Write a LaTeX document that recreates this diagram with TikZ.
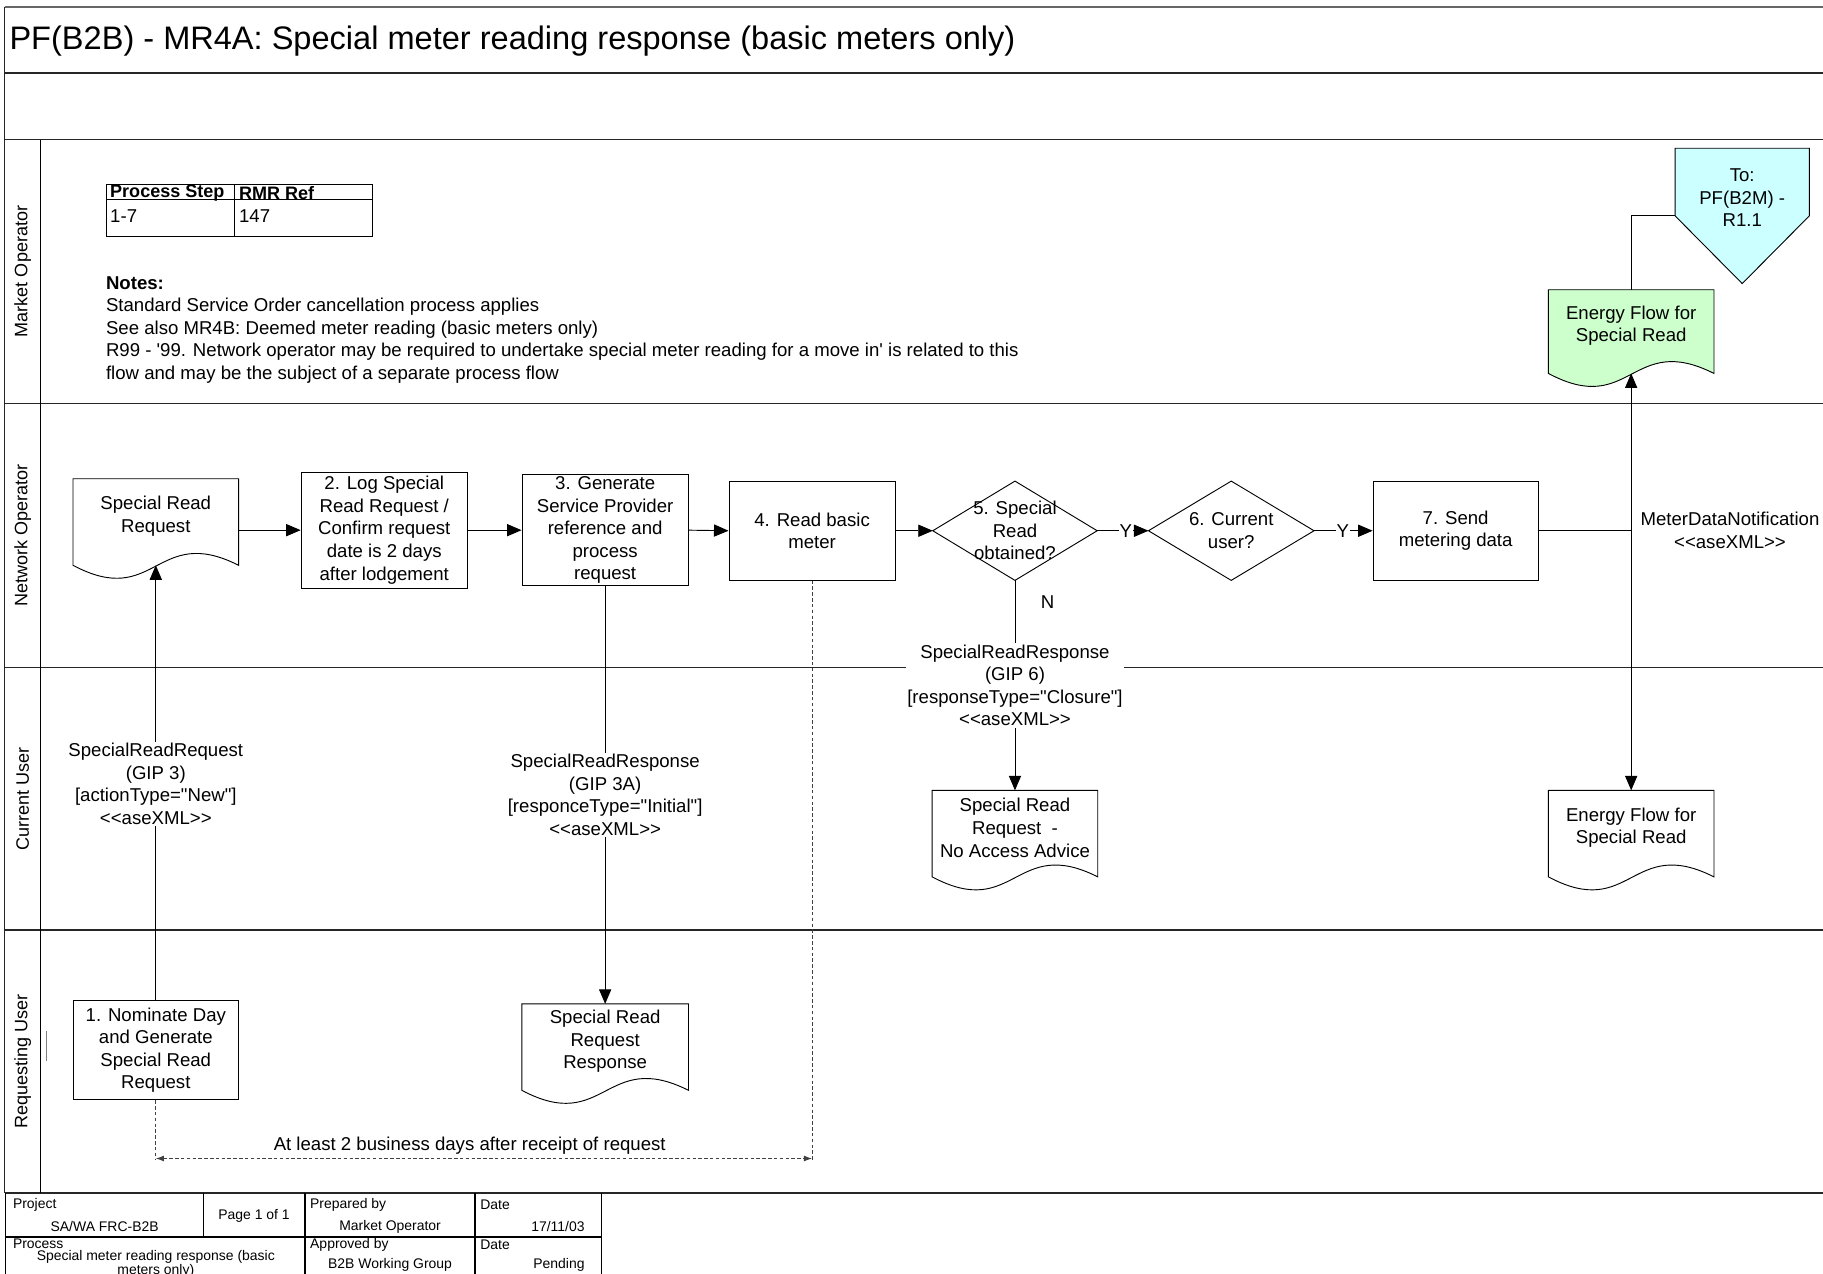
\documentclass[tikz,border=0pt]{standalone}
\usepackage{fontspec}
\setmainfont{Liberation Sans}
\newfontfamily\lsans{Liberation Sans}
\usetikzlibrary{arrows.meta,calc}
\pgfdeclarelayer{bg}
\pgfsetlayers{bg,main}
\definecolor{greenfill}{HTML}{CCFFCC}
\definecolor{cyanfill}{HTML}{CCFFFF}
\newcommand{\bodyfont}{\lsans\fontsize{16}{19.4}\selectfont}
\newcommand{\headfont}{\lsans\fontsize{15.5}{17}\selectfont\bfseries}
\newcommand{\titlefont}{\lsans\fontsize{28}{32}\selectfont}
\newcommand{\lanefont}{\lsans\fontsize{15.5}{18}\selectfont}
\newcommand{\footfont}{\lsans\fontsize{12}{12}\selectfont}
\newcommand{\ltlt}{<\kern0pt<}
\newcommand{\gtgt}{>\kern0pt>}
\newcommand{\docoutline}[2]{%
  \begin{pgfonlayer}{bg}
    \path[draw=black, line width=0.8pt, fill=#2]
      (#1.north west) -- ($(#1.south west)+(0,10)$)
      .. controls ($(#1.south)+(0,48)$) and ($(#1.south)+(0,-26)$) ..
      ($(#1.south east)+(0,10)$) -- (#1.north east) -- cycle;
  \end{pgfonlayer}
  \coordinate (#1-b) at ($(#1.south)+(0,10)$);
}
\begin{document}
\begin{tikzpicture}[x=1pt,y=-1pt,
  lane/.style={line width=1.4pt, draw=black!85},
  cline/.style={line width=0.8pt},
  proc/.style={draw, line width=0.8pt, align=center, font=\bodyfont, inner sep=0pt},
  docnode/.style={align=center, font=\bodyfont, inner sep=0pt},
  txt/.style={align=center, font=\bodyfont, inner sep=0pt},
  msg/.style={align=center, font=\bodyfont, fill=white, inner sep=1.5pt},
  ylab/.style={font=\bodyfont, fill=white, inner sep=0.6pt},
  arr/.style={line width=0.8pt, -{Triangle[length=12.5pt,width=10.5pt]}},
  dsh/.style={line width=0.7pt, draw=black!75, dash pattern=on 3pt off 2pt},
  dbl/.style={{Latex[length=7pt,width=5pt]}-{Latex[length=7pt,width=5pt]}},
  lanelab/.style={rotate=90, font=\lanefont, inner sep=0pt},
  ft/.style={font=\footfont, inner sep=0pt}
]
\useasboundingbox (0,0) rectangle (1568,1095);
\begin{pgfonlayer}{bg}
  \fill[white] (0,0) rectangle (1568,1095);
\end{pgfonlayer}

% ---------- frame and lanes ----------
\draw[line width=1pt, draw=black!60] (4,6) -- (1568,6);
\draw[lane] (4,6) -- (4,1026);
\foreach \yy in {63,120,347,574,800,1026} \draw[lane] (4,\yy) -- (1568,\yy);
\draw[line width=1pt] (35,120) -- (35,1026);
\draw[line width=1pt, draw=black!50] (40,887) -- (40,913);

\node[anchor=west, font=\titlefont, inner sep=0pt] (title) at (8,35)
  {PF(B2B) - MR4A: Special meter reading response (basic meters only)};

\node[lanelab] (lmo) at (19.5,233.5) {Market Operator};
\node[lanelab] (lno) at (19.5,460.5) {Network Operator};
\node[lanelab] (lcu) at (19.5,687) {Current User};
\node[lanelab] (lru) at (19.5,913) {Requesting User};

% ---------- process step table ----------
\draw[cline] (91.2,158.3) rectangle (320.5,203);
\draw[cline] (91.2,171.5) -- (320.5,171.5);
\draw[cline] (202,158.3) -- (202,203);
\node[anchor=west, font=\headfont, inner sep=0pt] (tps) at (94.6,166.3) {Process Step};
\node[anchor=west, font=\headfont, inner sep=0pt] (trmr) at (205.5,166.3) {RMR Ref};
\node[anchor=west, font=\bodyfont, inner sep=0pt] (t17) at (94.6,185.5) {1-7};
\node[anchor=west, font=\bodyfont, inner sep=0pt] (t147) at (205.5,185.5) {147};

% ---------- notes ----------
\node[anchor=north west, align=left, font=\bodyfont, inner sep=0pt] (notes) at (91,237.5)
  {\textbf{Notes:}\\
   Standard Service Order cancellation process applies\\
   See also MR4B: Deemed meter reading (basic meters only)\\
   R99 - '99. Network operator may be required to undertake special meter reading for a move in' is related to this\\
   flow and may be the subject of a separate process flow};

% ---------- market operator lane ----------
\node[docnode, minimum width=142, minimum height=61.6] (efn) at (1403,280.2) {Energy Flow for\\Special Read};
\docoutline{efn}{greenfill}
\node[minimum width=115, minimum height=116, inner sep=0pt] (pent) at (1498.5,185.7) {};
\begin{pgfonlayer}{bg}
  \path[draw=black, line width=0.8pt, fill=cyanfill]
    (pent.north west) -- (pent.north east) -- (pent.east) -- (pent.south) -- (pent.west) -- cycle;
\end{pgfonlayer}
\node[txt] (pentxt) at (1498.5,170) {To:\\PF(B2M) -\\R1.1};

% ---------- network operator lane ----------
\node[docnode, minimum width=142, minimum height=64] (srq) at (134,444) {Special Read\\Request};
\docoutline{srq}{white}
\node[proc, minimum width=143, minimum height=100] (box2) at (330.5,456)
  {2. Log Special\\Read Request /\\Confirm request\\date is 2 days\\after lodgement};
\node[proc, minimum width=143, minimum height=95] (box3) at (520.5,456)
  {3. Generate\\Service Provider\\reference and\\process\\request};
\node[proc, minimum width=143, minimum height=85] (box4) at (698.5,456.5) {4. Read basic\\meter};
\node[txt, minimum width=141, minimum height=85] (d5) at (873,456.5) {5. Special\\Read\\obtained?};
\draw[cline] (d5.west) -- (d5.north) -- (d5.east) -- (d5.south) -- cycle;
\node[txt, minimum width=142, minimum height=85] (d6) at (1059,456.5) {6. Current\\user?};
\draw[cline] (d6.west) -- (d6.north) -- (d6.east) -- (d6.south) -- cycle;
\node[proc, minimum width=142, minimum height=85] (box7) at (1252,456.5) {7. Send\\metering data};

% ---------- current user lane ----------
\node[docnode, minimum width=142, minimum height=64] (nad) at (873,712) {Special Read\\Request\ \ -\\No Access Advice};
\docoutline{nad}{white}
\node[docnode, minimum width=142, minimum height=64] (efc) at (1403,712) {Energy Flow for\\Special Read};
\docoutline{efc}{white}

% ---------- requesting user lane ----------
\node[proc, minimum width=141.4, minimum height=85.3] (box1) at (134,903.4)
  {1. Nominate Day\\and Generate\\Special Read\\Request};
\node[docnode, minimum width=143, minimum height=64] (srr) at (520.5,895.6) {Special Read\\Request\\Response};
\docoutline{srr}{white}

% ---------- connectors ----------
\draw[arr] (srq.east |- box2.west) -- (box2.west);
\draw[arr] (box2.east) -- (box3.west |- box2.east);
\draw[arr] (box3.east) -- (box4.west);
\draw[arr] (box4.east) -- (d5.west);
\draw[arr] (d5.east) -- node[ylab, pos=0.56] (y1) {Y} (d6.west);
\draw[arr] (d6.east) -- node[ylab, pos=0.49] (y2) {Y} (box7.west);
\coordinate (jn) at (box7.east -| efn.south);
\draw[cline] (box7.east) -- (jn);
\draw[arr] (jn) -- (efn-b);
\draw[arr] (jn) -- (efc.north);
\draw[cline] (efn.north) |- (pent.west);
\node[txt] (mdn) at (1488,456) {MeterDataNotification\\\ltlt aseXML\gtgt};

\draw[arr] (box1.north) -- (srq-b);
\node[msg] (m1) at (134,674.3) {SpecialReadRequest\\(GIP 3)\\{[}actionType="New"{]}\\\ltlt aseXML\gtgt};

\draw[arr] (box3.south) -- (srr.north);
\node[msg] (m2) at (520.5,683.8) {SpecialReadResponse\\(GIP 3A)\\{[}responceType="Initial"{]}\\\ltlt aseXML\gtgt};

\draw[arr] (d5.south) -- (nad.north);
\node[txt] (nlab) at (901,518) {N};
\node[msg] (m3) at (873,589.6) {SpecialReadResponse\\(GIP 6)\\{[}responseType="Closure"{]}\\\ltlt aseXML\gtgt};

% ---------- timing ----------
\draw[dsh] (box1.south) -- ++(0,51) coordinate (t1);
\coordinate (t2) at (box4.south |- t1);
\draw[dsh] (box4.south) -- (t2);
\draw[dsh, dbl] ($(t1)+(0,-1)$) -- ($(t2)+(0,-1)$);
\node[txt] (tlab) at (404,985.8) {At least 2 business days after receipt of request};

% ---------- footer ----------
\draw[line width=1pt] (5,1026) -- (5,1100) (517,1026) -- (517,1100)
  (5,1064) -- (517,1064) (175,1026) -- (175,1064)
  (262.4,1026) -- (262.4,1100) (408.6,1026) -- (408.6,1100);
\node[ft, anchor=west] (fproj) at (11,1036) {Project};
\node[ft] (fprojv) at (90,1055) {SA/WA FRC-B2B};
\node[ft] (fpage) at (218.5,1046) {Page 1 of 1};
\node[ft, anchor=west] (fprep) at (266.6,1036) {Prepared by};
\node[ft] (fprepv) at (335.5,1055) {Market Operator};
\node[ft, anchor=west] (fdate1) at (413,1036) {Date};
\node[ft, anchor=east] (fdate1v) at (503,1055) {17/11/03};
\node[ft, anchor=west] (fproc) at (11,1070) {Process};
\node[ft, align=center, anchor=north] (fprocv) at (134,1075.5) {Special meter reading response (basic\\meters only)};
\node[ft, anchor=west] (fappr) at (266.6,1071) {Approved by};
\node[ft] (fapprv) at (335.5,1088) {B2B Working Group};
\node[ft, anchor=west] (fdate2) at (413,1071) {Date};
\node[ft, anchor=east] (fdate2v) at (503,1088) {Pending};
\end{tikzpicture}
\end{document}
